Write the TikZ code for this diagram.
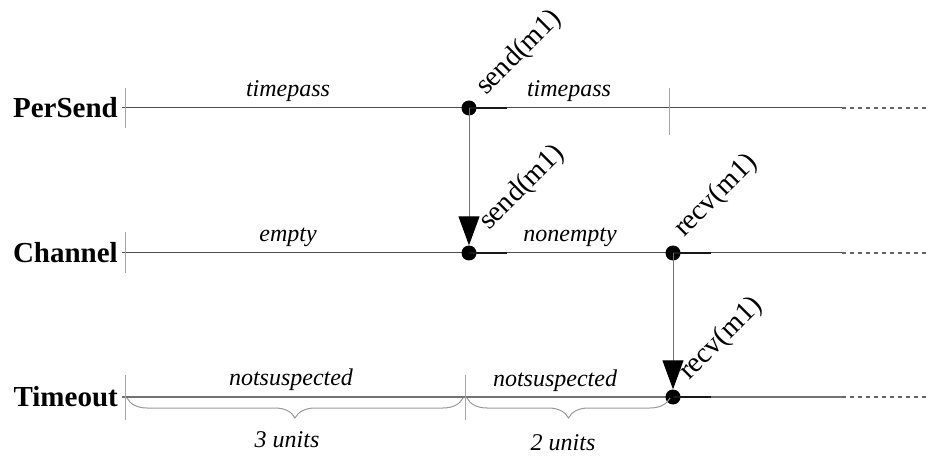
\documentclass[tikz,border=0pt]{standalone}
\usepackage{fontspec}
\setmainfont{Liberation Serif}
\usetikzlibrary{arrows.meta,decorations.pathreplacing}
\begin{document}
\begin{tikzpicture}[x=1pt,y=-1pt,
  axisln/.style={draw=black!70, line width=1pt},
  axisthick/.style={draw=black!55, line width=2pt},
  dashln/.style={draw=black!60, line width=1.5pt, dash pattern=on 4pt off 4pt},
  tickln/.style={draw=black!35, line width=1pt},
  darkseg/.style={draw=black!90, line width=1.1pt},
  dotnode/.style={circle, fill=black, inner sep=0pt, minimum size=15pt},
  msg/.style={draw=black!55, line width=1pt, -{Triangle[width=21pt,length=29pt,color=black]}},
  proc/.style={font=\fontsize{29}{30}\selectfont\bfseries, anchor=east, inner sep=0pt},
  state/.style={font=\fontsize{24}{26}\selectfont\itshape, anchor=base, inner sep=0pt},
  evlabel/.style={font=\fontsize{28.5}{30}\selectfont, rotate=45, anchor=base west, inner sep=0pt},
  bracedec/.style={draw=black!40, line width=1pt, decorate, decoration={brace, mirror, amplitude=20pt}}
]
\useasboundingbox (0,0) rectangle (930,457);

% process names
\node[proc] (pPer) at (118,108) {PerSend};
\node[proc] (pCh) at (118,253) {Channel};
\node[proc] (pTo) at (118,397) {Timeout};

% axis coordinates
\coordinate (a1s) at (122,108); \coordinate (a1e) at (842,108); \coordinate (a1d) at (930,108);
\coordinate (a2s) at (122,253); \coordinate (a2e) at (842,253); \coordinate (a2d) at (930,253);
\coordinate (a3s) at (122,397); \coordinate (a3e) at (842,397); \coordinate (a3d) at (930,397);

\draw[axisln] (a1s) -- (a1e);
\draw[dashln] (a1e) -- (a1d);
\draw[axisln] (a2s) -- (a2e);
\draw[dashln] (a2e) -- (a2d);
\draw[axisthick] (a3s) -- (a3e);
\draw[dashln] (a3e) -- (a3d);

% ticks
\coordinate (k1a) at (125,88);  \coordinate (k1b) at (125,128);
\coordinate (k2a) at (125,232); \coordinate (k2b) at (125,273);
\coordinate (k3a) at (125,375); \coordinate (k3b) at (125,420);
\coordinate (k4a) at (669,88);  \coordinate (k4b) at (669,135);
\coordinate (k5a) at (465,375); \coordinate (k5b) at (465,420);
\draw[tickln] (k1a) -- (k1b);
\draw[tickln] (k2a) -- (k2b);
\draw[tickln] (k3a) -- (k3b);
\draw[tickln] (k4a) -- (k4b);
\draw[tickln] (k5a) -- (k5b);

% event dots
\node[dotnode] (s1) at (469,108) {};
\node[dotnode] (c1) at (469,253) {};
\node[dotnode] (c2) at (673,253) {};
\node[dotnode] (t1) at (673,397) {};
\draw[darkseg] (s1.center) -- ++(38,0);
\draw[darkseg] (c1.center) -- ++(38,0);
\draw[darkseg] (c2.center) -- ++(38,0);
\draw[darkseg] (t1.center) -- ++(38,0);

% messages
\draw[msg] (s1.center) -- (c1.north);
\draw[msg] (c2.center) -- (t1.north);

% event labels
\node[evlabel] (e1) at ([shift={(17,-12)}]s1.center) {send(m1)};
\node[evlabel] (e2) at ([shift={(20,-22)}]c1.center) {send(m1)};
\node[evlabel] (e3) at ([shift={(11,-15)}]c2.center) {recv(m1)};
\node[evlabel] (e4) at ([shift={(16,-16)}]t1.center) {recv(m1)};

% state labels
\node[state] (l1) at (288,97) {timepass};
\node[state] (l2) at (569,97) {timepass};
\node[state] (l3) at (288,242) {empty};
\node[state] (l4) at (570,242) {nonempty};
\node[state] (l5) at (291,385) {notsuspected};
\node[state] (l6) at (555,386) {notsuspected};

% braces
\coordinate (b1a) at (127,398); \coordinate (b1b) at (463,398);
\coordinate (b2a) at (467,398); \coordinate (b2b) at (670,398);
\draw[bracedec] (b1a) -- (b1b);
\draw[bracedec] (b2a) -- (b2b);
\node[state] (u1) at (287,447) {3 units};
\node[state] (u2) at (563,450) {2 units};
\end{tikzpicture}
\end{document}
